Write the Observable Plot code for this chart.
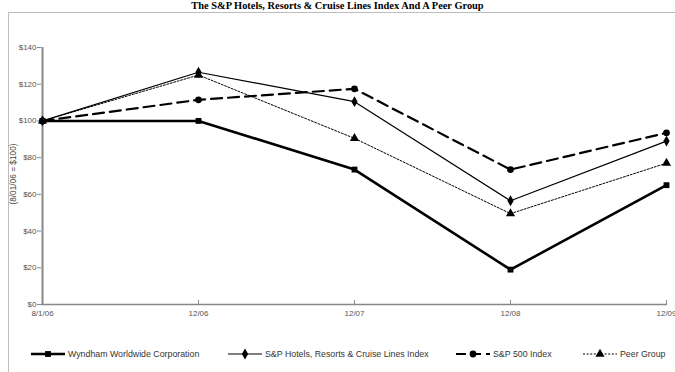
<!DOCTYPE html>
<html>
<head>
<meta charset="utf-8">
<script src="https://cdn.jsdelivr.net/npm/d3@7"></script>
<script src="https://cdn.jsdelivr.net/npm/@observablehq/plot@0.6"></script>
<style>
  html, body { margin: 0; padding: 0; background: #fff; width: 675px; height: 372px; overflow: hidden; }
  #wrap { position: relative; width: 675px; height: 372px; }
  #frame { position: absolute; left: 8px; top: 12px; width: 700px; height: 400px; border: 1px solid #bdbdbd; box-sizing: border-box; }
  #title { position: absolute; left: 0; top: 0px; width: 675px; text-align: center; font: bold 10.4px "Liberation Serif", "Times New Roman", serif; line-height: 11px; color: #000; }
  #chart { position: absolute; left: 0; top: 0; }
  #ylab { position: absolute; left: 13px; top: 174px; transform: translate(-50%, -50%) rotate(-90deg); font: 8.3px "Liberation Sans", Arial, sans-serif; color: #444; white-space: nowrap; }
  #legend { position: absolute; left: 0; top: 348px; width: 675px; height: 14px; font: 8.8px "Liberation Sans", Arial, sans-serif; color: #333; }
  .item { position: absolute; top: 0; display: flex; align-items: center; white-space: nowrap; }
  .item svg { margin-right: 2px; }
</style>
</head>
<body>
<div id="wrap">
  <div id="frame"></div>
  <div id="title">The S&amp;P Hotels, Resorts &amp; Cruise Lines Index And A Peer Group</div>
  <div id="chart"></div>
  <div id="ylab">(8/01/06 = $100)</div>
  <div id="legend"></div>
</div>
<script>
const dates = ["8/1/06", "12/06", "12/07", "12/08", "12/09"];
const wyndham = [100, 100, 73.5, 19, 65];
const spHotels = [100, 126.5, 110.5, 56.5, 89];
const sp500 = [100, 111.5, 117.5, 73.5, 93.5];
const peerGroup = [100, 125, 90.5, 49.5, 77];
const yTicks = [0, 20, 40, 60, 80, 100, 120, 140];

const seriesNames = ["Wyndham Worldwide Corporation", "S&P Hotels, Resorts & Cruise Lines Index", "S&P 500 Index", "Peer Group"];
const seriesValues = [wyndham, spHotels, sp500, peerGroup];
const styles = [
  {strokeWidth: 2.6, dash: null, symbol: "square", r: 3.3},
  {strokeWidth: 1.2, dash: null, symbol: "diamond", r: 3.3},
  {strokeWidth: 2.2, dash: "11,6", symbol: "circle", r: 3.4},
  {strokeWidth: 1, dash: "2,1.6", symbol: "triangle", r: 3.4}
];

const marks = [
  Plot.ruleY([0], {stroke: "#888", strokeWidth: 1.5}),
  Plot.ruleX([dates[0]], {y1: 0, y2: 140, stroke: "#888", strokeWidth: 2}),
  Plot.axisY({ticks: yTicks, tickFormat: d => "$" + d, tickSize: 4, tickPadding: 1, stroke: "#888", fill: "#555", fontSize: 8, fontFamily: "Liberation Sans, Arial, sans-serif"}),
  Plot.axisX({tickSize: -4, tickPadding: 10, stroke: "#888", fill: "#555", fontSize: 8, fontFamily: "Liberation Sans, Arial, sans-serif"})
];
seriesNames.forEach((name, i) => {
  const rows = dates.map((d, j) => ({date: d, value: seriesValues[i][j]}));
  const s = styles[i];
  marks.push(Plot.line(rows, {x: "date", y: "value", stroke: "#000", strokeWidth: s.strokeWidth, strokeDasharray: s.dash}));
  marks.push(Plot.dot(rows, {x: "date", y: "value", symbol: () => s.symbol, r: s.r, fill: "#000", stroke: "none"}));
});

const chart = Plot.plot({
  width: 675,
  height: 330,
  marginTop: 47,
  marginBottom: 26,
  marginLeft: 41,
  marginRight: 8,
  style: {background: "transparent", overflow: "visible"},
  x: {type: "point", domain: dates, padding: 0, label: null},
  y: {domain: [0, 140], label: null},
  symbol: {type: "identity"},
  marks
});
document.getElementById("chart").appendChild(chart);

// legend
const legendPos = [30, 227, 455, 582];
const legend = document.getElementById("legend");
seriesNames.forEach((name, i) => {
  const s = styles[i];
  const div = document.createElement("div");
  div.className = "item";
  div.style.left = legendPos[i] + "px";
  const w = 36;
  const svg = d3.create("svg").attr("width", w).attr("height", 12);
  svg.append("line").attr("x1", 1).attr("x2", w - 1).attr("y1", 6).attr("y2", 6)
    .attr("stroke", "#000").attr("stroke-width", s.strokeWidth)
    .attr("stroke-dasharray", s.dash ? (i === 2 ? "10,5" : "2,1.6") : null);
  const sym = {square: d3.symbolSquare, diamond: d3.symbolDiamond, circle: d3.symbolCircle, triangle: d3.symbolTriangle}[s.symbol];
  svg.append("path").attr("transform", `translate(${w / 2},6)`).attr("d", d3.symbol(sym, Math.PI * s.r * s.r)()).attr("fill", "#000");
  div.appendChild(svg.node());
  const t = document.createElement("span");
  t.textContent = name;
  div.appendChild(t);
  legend.appendChild(div);
});
</script>
</body>
</html>
